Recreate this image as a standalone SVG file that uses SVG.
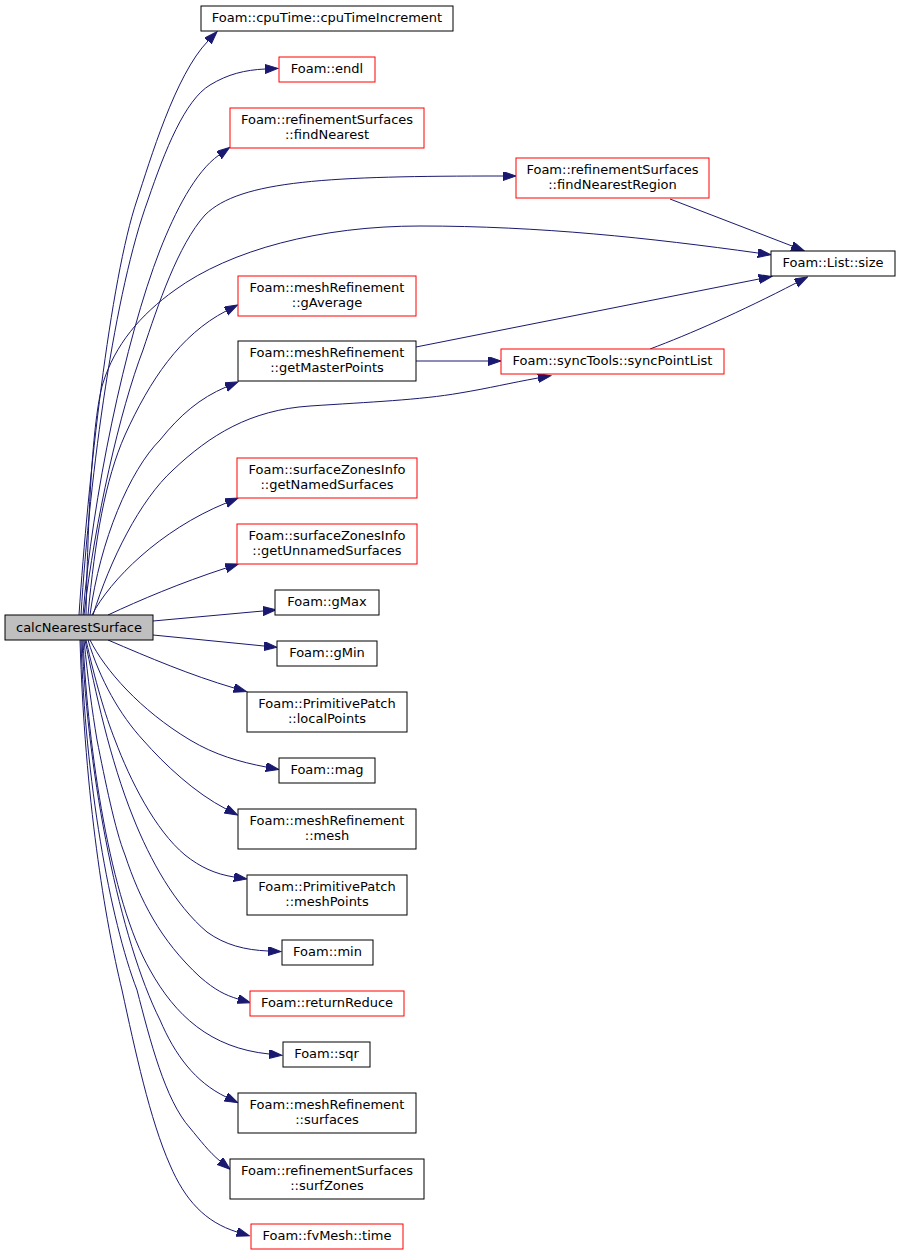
<svg xmlns="http://www.w3.org/2000/svg" width="900" height="1256" viewBox="0 0 900 1256">
<style>
rect{fill:#fff;stroke:#000;stroke-width:1}
rect.red{stroke:#f00}
rect.cur{fill:#bfbfbf}
text{font-family:"DejaVu Sans","Liberation Sans",sans-serif;font-size:13px;text-anchor:middle;fill:#000}
#edges path{fill:none;stroke:#191970;stroke-width:1;marker-end:url(#ah)}
</style>
<defs>
<marker id="ah" markerUnits="userSpaceOnUse" markerWidth="14" markerHeight="10" refX="0" refY="4.5" orient="auto">
<path d="M0,0 L13,4.5 L0,9 z" fill="#191970" stroke="#191970" stroke-width="1"/>
</marker>
</defs>
<rect x="0" y="0" width="900" height="1256" style="fill:#fff;stroke:none"/>
<g id="edges">
<path d="M79,615 C88,480 110,280 137,200 C150,161 175,75 208,41"/>
<path d="M81,615 C90,470 115,290 148,200 C165,150 185,100 210,85 C228,74 245,70 265,69"/>
<path d="M83,615 C92,500 125,340 160,250 C175,212 195,172 219,155"/>
<path d="M84,615 C95,520 120,410 143,350 C158,305 178,245 205,215 C240,180 330,176 503,176"/>
<path d="M86,615 C88,520 92,420 103,383 C115,345 140,315 175,290 C230,250 320,226 420,226 C540,226 650,238 758,253"/>
<path d="M88,615 C95,540 105,480 125,435 C150,380 180,335 226,311"/>
<path d="M90,615 C100,540 130,470 160,440 C180,415 200,398 226,387"/>
<path d="M93,615 C110,560 140,500 173,470 C210,435 250,410 310,406 C370,402 420,400 460,393 C490,388 510,383 538,378"/>
<path d="M92,615 C110,580 160,530 226,503"/>
<path d="M108,615 C140,600 180,583 226,568"/>
<path d="M153,621 L263,611"/>
<path d="M153,635 L264,646"/>
<path d="M108,640 C150,658 190,675 234,688"/>
<path d="M90,640 C105,670 140,710 190,740 C215,755 240,762 266,767"/>
<path d="M88,640 C100,680 120,715 143,740 C165,765 195,793 226,809"/>
<path d="M86,640 C95,680 105,715 115,740 C130,780 155,830 185,855 C200,867 215,874 234,877"/>
<path d="M85,640 C95,690 110,760 133,817 C150,860 175,905 207,932 C225,945 245,950 268,951"/>
<path d="M84,640 C88,680 92,710 97,740 C105,780 115,830 125,855 C140,900 160,940 200,977 C215,990 225,995 238,999"/>
<path d="M83,640 C88,750 110,900 150,970 C175,1015 210,1048 269,1054"/>
<path d="M82,640 C88,780 120,940 160,1020 C175,1055 195,1082 226,1097"/>
<path d="M81,640 C85,780 110,920 137,990 C150,1040 165,1100 190,1128 C200,1140 209,1152 220,1161"/>
<path d="M80,640 C85,800 105,920 122,990 C135,1050 150,1120 170,1165 C185,1200 205,1222 237,1232"/>
<path d="M670,199 L792,246"/>
<path d="M416,347 L759,279"/>
<path d="M416,361 L488,361"/>
<path d="M650,349 C690,334 740,312 796,283"/>
</g>
<g id="calcNearestSurface"><rect class="cur" x="5" y="615" width="148" height="25"/><text x="79" y="632">calcNearestSurface</text></g>
<g id="cpuTimeIncrement"><rect x="201" y="6" width="252" height="25"/><text x="327" y="22">Foam::cpuTime::cpuTimeIncrement</text></g>
<g id="endl"><rect class="red" x="279" y="57" width="96" height="25"/><text x="327" y="73">Foam::endl</text></g>
<g id="findNearest"><rect class="red" x="230" y="108" width="194" height="40"/><text x="327" y="124">Foam::refinementSurfaces</text><text x="327" y="139">::findNearest</text></g>
<g id="findNearestRegion"><rect class="red" x="516" y="158" width="193" height="40"/><text x="612.5" y="174">Foam::refinementSurfaces</text><text x="612.5" y="189">::findNearestRegion</text></g>
<g id="listSize"><rect x="771" y="251" width="124" height="25"/><text x="833" y="267">Foam::List::size</text></g>
<g id="syncPointList"><rect class="red" x="501" y="349" width="223" height="25"/><text x="612.5" y="365">Foam::syncTools::syncPointList</text></g>
<g id="gAverage"><rect class="red" x="238" y="276" width="178" height="40"/><text x="327" y="292">Foam::meshRefinement</text><text x="327" y="307">::gAverage</text></g>
<g id="getMasterPoints"><rect x="238" y="341" width="178" height="40"/><text x="327" y="357">Foam::meshRefinement</text><text x="327" y="372">::getMasterPoints</text></g>
<g id="getNamedSurfaces"><rect class="red" x="237" y="458" width="180" height="40"/><text x="327" y="474">Foam::surfaceZonesInfo</text><text x="327" y="489">::getNamedSurfaces</text></g>
<g id="getUnnamedSurfaces"><rect class="red" x="237" y="524" width="180" height="40"/><text x="327" y="540">Foam::surfaceZonesInfo</text><text x="327" y="555">::getUnnamedSurfaces</text></g>
<g id="gMax"><rect x="275" y="590" width="104" height="25"/><text x="327" y="606">Foam::gMax</text></g>
<g id="gMin"><rect x="277" y="641" width="100" height="25"/><text x="327" y="657">Foam::gMin</text></g>
<g id="localPoints"><rect x="247" y="692" width="160" height="40"/><text x="327" y="708">Foam::PrimitivePatch</text><text x="327" y="723">::localPoints</text></g>
<g id="mag"><rect x="279" y="758" width="96" height="25"/><text x="327" y="774">Foam::mag</text></g>
<g id="mesh"><rect x="238" y="809" width="178" height="40"/><text x="327" y="825">Foam::meshRefinement</text><text x="327" y="840">::mesh</text></g>
<g id="meshPoints"><rect x="247" y="875" width="160" height="40"/><text x="327" y="891">Foam::PrimitivePatch</text><text x="327" y="906">::meshPoints</text></g>
<g id="min"><rect x="282" y="940" width="91" height="25"/><text x="327.5" y="956">Foam::min</text></g>
<g id="returnReduce"><rect class="red" x="250" y="991" width="154" height="25"/><text x="327" y="1007">Foam::returnReduce</text></g>
<g id="sqr"><rect x="283" y="1042" width="87" height="25"/><text x="326.5" y="1058">Foam::sqr</text></g>
<g id="surfaces"><rect x="238" y="1093" width="178" height="40"/><text x="327" y="1109">Foam::meshRefinement</text><text x="327" y="1124">::surfaces</text></g>
<g id="surfZones"><rect x="230" y="1159" width="194" height="40"/><text x="327" y="1175">Foam::refinementSurfaces</text><text x="327" y="1190">::surfZones</text></g>
<g id="time"><rect class="red" x="251" y="1224" width="152" height="25"/><text x="327" y="1240">Foam::fvMesh::time</text></g>
</svg>
